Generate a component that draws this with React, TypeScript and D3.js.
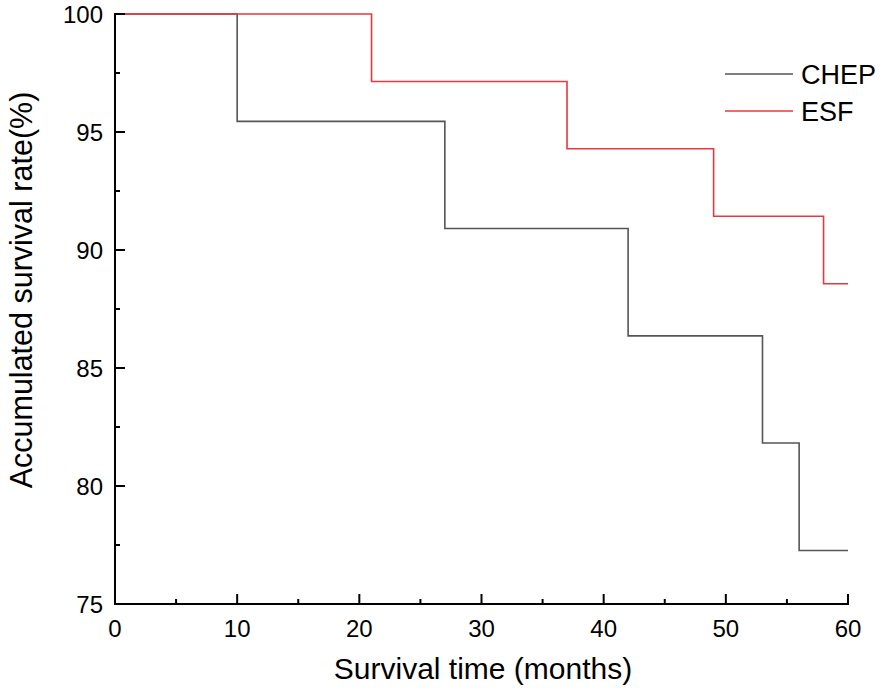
import { useEffect, useRef } from 'react'
import * as d3 from 'd3'

// Kaplan-Meier steps
const chepTimes = [0, 10, 27, 42, 53, 56, 60]
const chepRates = [100, 95.45, 90.91, 86.36, 81.82, 77.27, 77.27]
const esfTimes = [0, 21, 37, 49, 58, 60]
const esfRates = [100, 97.14, 94.29, 91.43, 88.57, 88.57]

const xTicks = [0, 10, 20, 30, 40, 50, 60]
const xMinor = [5, 15, 25, 35, 45, 55]
const yTicks = [75, 80, 85, 90, 95, 100]
const yMinor = [77.5, 82.5, 87.5, 92.5, 97.5]

const seriesNames = ['CHEP', 'ESF']
const seriesColors = ['#555555', '#e8383d']

const FONT = 'Arial, "Liberation Sans", sans-serif'

export default function App() {
  const svgRef = useRef<SVGSVGElement>(null)

  useEffect(() => {
    const svgEl = svgRef.current
    if (!svgEl) return
    const svg = d3.select(svgEl)
    svg.selectAll('*').remove()

    const x = d3.scaleLinear().domain([0, 60]).range([115, 848])
    const y = d3.scaleLinear().domain([75, 100]).range([604, 14])

    const step = d3.line<[number, number]>()
      .x(d => x(d[0])).y(d => y(d[1]))
      .curve(d3.curveStepAfter)

    const series = [
      d3.zip(chepTimes, chepRates) as [number, number][],
      d3.zip(esfTimes, esfRates) as [number, number][],
    ]

    series.forEach((pts, i) => {
      svg.append('path')
        .attr('d', step(pts))
        .attr('fill', 'none')
        .attr('stroke', seriesColors[i])
        .attr('stroke-width', 1.6)
    })

    // axes — ticks point inward
    const ax = svg.append('g').attr('stroke', '#000').attr('stroke-width', 2)
    ax.append('line').attr('x1', x(0)).attr('x2', x(0)).attr('y1', y(100) - 1).attr('y2', y(75) + 1)
    ax.append('line').attr('x1', x(0) - 1).attr('x2', x(60) + 1).attr('y1', y(75)).attr('y2', y(75))

    xTicks.forEach(t => {
      ax.append('line').attr('x1', x(t)).attr('x2', x(t)).attr('y1', y(75)).attr('y2', y(75) - 10)
    })
    xMinor.forEach(t => {
      ax.append('line').attr('x1', x(t)).attr('x2', x(t)).attr('y1', y(75)).attr('y2', y(75) - 5)
    })
    yTicks.forEach(t => {
      ax.append('line').attr('x1', x(0)).attr('x2', x(0) + 10).attr('y1', y(t)).attr('y2', y(t))
    })
    yMinor.forEach(t => {
      ax.append('line').attr('x1', x(0)).attr('x2', x(0) + 5).attr('y1', y(t)).attr('y2', y(t))
    })

    svg.append('g').selectAll('text').data(xTicks).enter().append('text')
      .attr('x', d => x(d)).attr('y', 637)
      .attr('text-anchor', 'middle')
      .attr('font-family', FONT).attr('font-size', 24)
      .text(d => d)

    svg.append('g').selectAll('text').data(yTicks).enter().append('text')
      .attr('x', 103).attr('y', d => y(d) + 9)
      .attr('text-anchor', 'end')
      .attr('font-family', FONT).attr('font-size', 24)
      .text(d => d)

    svg.append('text')
      .attr('x', 483).attr('y', 679)
      .attr('text-anchor', 'middle')
      .attr('font-family', FONT).attr('font-size', 30)
      .text('Survival time (months)')

    svg.append('text')
      .attr('transform', 'translate(32,290) rotate(-90)')
      .attr('text-anchor', 'middle')
      .attr('font-family', FONT).attr('font-size', 30.5)
      .text('Accumulated survival rate(%)')

    // legend
    seriesNames.forEach((name, i) => {
      const ly = 74 + i * 37
      svg.append('line')
        .attr('x1', 725).attr('x2', 793).attr('y1', ly).attr('y2', ly)
        .attr('stroke', seriesColors[i]).attr('stroke-width', 1.6)
      svg.append('text')
        .attr('x', 801).attr('y', ly + 10)
        .attr('font-family', FONT).attr('font-size', 27)
        .text(name)
    })
  }, [])

  return (
    <svg ref={svgRef} width={886} height={694}
      style={{ position: 'absolute', left: 0, top: 0, background: '#fff' }} />
  )
}
